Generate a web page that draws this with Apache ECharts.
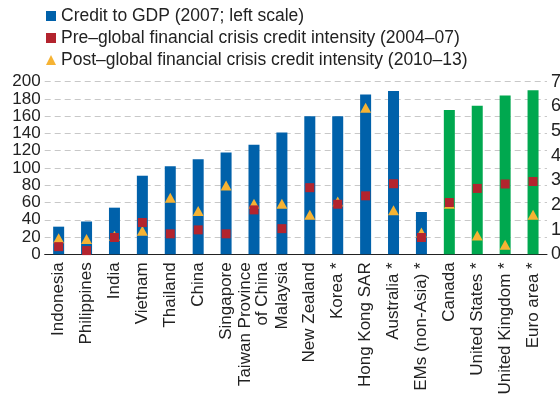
<!DOCTYPE html>
<html><head><meta charset="utf-8">
<script src="https://cdn.jsdelivr.net/npm/echarts@6/dist/echarts.min.js"></script>
<style>html,body{margin:0;padding:0;background:#fff}#c{width:560px;height:395px}</style>
</head><body><div id="c"></div>
<script>
var categories = ['Indonesia','Philippines','India','Vietnam','Thailand','China','Singapore','Taiwan Province\nof China','Malaysia','New Zealand','Korea *','Hong Kong SAR','Australia *','EMs (non-Asia) *','Canada','United States *','United Kingdom *','Euro area *'];
var creditToGDP = [32, 38, 54, 91, 102, 110, 118, 127, 141, 160, 160, 185, 189, 49, 167, 172, 184, 190];
var preCrisis = [0.31, 0.15, 0.68, 1.29, 0.83, 0.99, 0.83, 1.80, 1.04, 2.70, 2.03, 2.37, 2.86, 0.68, 2.10, 2.67, 2.85, 2.95];
var postCrisis = [0.65, 0.62, 0.75, 0.95, 2.29, 1.76, 2.79, 2.05, 2.05, 1.60, 2.14, 5.94, 1.79, 0.88, 2.05, 0.76, 0.39, 1.60];
var advancedEconomies = ['Canada','United States *','United Kingdom *','Euro area *'];

var BLUE = '#0061AA', GREEN = '#00A84F', RED = '#B3242E', YELLOW = '#F6B333';
var FONT = 'Liberation Sans, Arial, sans-serif';
var chart = echarts.init(document.getElementById('c'));
var barData = creditToGDP.map(function(v, i){
  return advancedEconomies.indexOf(categories[i]) >= 0 ? {value: v, itemStyle: {color: GREEN}} : v;
});
chart.setOption({
  animation: false,
  textStyle: {fontFamily: FONT},
  legend: {
    orient: 'vertical', left: 41, top: 2, itemWidth: 10, itemHeight: 10, itemGap: 4,
    textStyle: {fontSize: 17.5, color: '#222', fontFamily: FONT, lineHeight: 18},
    data: [
      {name: 'Credit to GDP (2007; left scale)', icon: 'rect'},
      {name: 'Pre–global financial crisis credit intensity (2004–07)', icon: 'rect'},
      {name: 'Post–global financial crisis credit intensity (2010–13)', icon: 'triangle'}
    ]
  },
  grid: {left: 44.7, right: 13, top: 81.6, bottom: 140.7, containLabel: false, outerBoundsMode: 'none'},
  xAxis: {
    type: 'category', data: categories,
    axisLine: {lineStyle: {color: '#222', width: 1}},
    axisTick: {inside: true, length: 4, lineStyle: {color: '#444'}},
    axisLabel: {rotate: 90, interval: 0, fontSize: 17, color: '#222', margin: 8, fontFamily: FONT, lineHeight: 17}
  },
  yAxis: [
    {type: 'value', min: 0, max: 200, interval: 20,
     axisLine: {show: false}, axisTick: {show: false},
     axisLabel: {fontSize: 17, color: '#222', margin: 4, fontFamily: FONT, showMinLabel: true, showMaxLabel: true, hideOverlap: false},
     splitLine: {lineStyle: {type: [6, 4], color: '#c8c8c8'}}},
    {type: 'value', min: 0, max: 7, interval: 1,
     axisLine: {show: false}, axisTick: {show: false},
     axisLabel: {fontSize: 18, color: '#222', margin: 4, fontFamily: FONT, showMinLabel: true, showMaxLabel: true, hideOverlap: false},
     splitLine: {show: false}}
  ],
  series: [
    {name: 'Credit to GDP (2007; left scale)', type: 'bar', yAxisIndex: 0, barWidth: 11,
     itemStyle: {color: BLUE}, data: barData},
    {name: 'Post–global financial crisis credit intensity (2010–13)', type: 'scatter', yAxisIndex: 1,
     symbol: 'triangle', symbolSize: [11, 10], itemStyle: {color: YELLOW, opacity: 1}, data: postCrisis, z: 3},
    {name: 'Pre–global financial crisis credit intensity (2004–07)', type: 'scatter', yAxisIndex: 1,
     symbol: 'rect', symbolSize: 9, itemStyle: {color: RED, opacity: 1}, data: preCrisis, z: 4}
  ]
});
</script></body></html>
